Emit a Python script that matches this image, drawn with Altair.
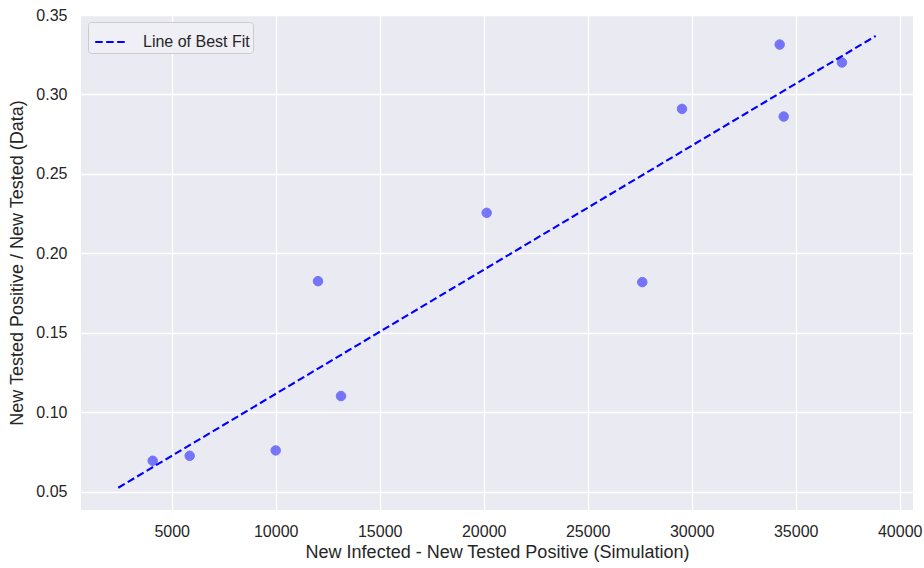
import altair as alt
import pandas as pd

# Scatter data
sim_x = [4087, 5865, 10000, 12034, 13140, 20144, 27625, 29534, 34231, 34423, 37226]
data_y = [0.0695, 0.0726, 0.0760, 0.1825, 0.1102, 0.2255, 0.1819, 0.2909, 0.3314, 0.2861, 0.3201]

# Line of best fit endpoints
fit_x = [2433, 38846]
fit_y = [0.0525, 0.3368]

x_ticks = [5000, 10000, 15000, 20000, 25000, 30000, 35000, 40000]
y_ticks = [0.05, 0.10, 0.15, 0.20, 0.25, 0.30, 0.35]

pts = pd.DataFrame({"x": sim_x, "y": data_y})
fit = pd.DataFrame({"x": fit_x, "y": fit_y, "label": ["Line of Best Fit"] * len(fit_x)})

FONT = "Liberation Sans"
TXT = "#262626"

xscale = alt.Scale(domain=[640, 40640], nice=False, zero=False)
yscale = alt.Scale(domain=[0.0385, 0.350], nice=False, zero=False)

xaxis = alt.Axis(
    title="New Infected - New Tested Positive (Simulation)",
    values=x_ticks, format="d", grid=True, gridColor="white", gridWidth=1.3,
    domain=False, ticks=False, labelPadding=13, labelFontSize=16, labelColor=TXT,
    titleFontSize=18, titleFontWeight="normal", titleColor=TXT, titlePadding=4,
    labelFont=FONT, titleFont=FONT,
)
yaxis = alt.Axis(
    title="New Tested Positive / New Tested (Data)",
    values=y_ticks, format=".2f", grid=True, gridColor="white", gridWidth=1.3,
    domain=False, ticks=False, labelPadding=14, labelFontSize=16, labelColor=TXT,
    titleFontSize=18, titleFontWeight="normal", titleColor=TXT, titlePadding=9,
    labelFont=FONT, titleFont=FONT,
)

points = alt.Chart(pts).mark_circle(
    size=90, color="blue", opacity=0.5, stroke="blue", strokeWidth=1
).encode(
    x=alt.X("x:Q", scale=xscale, axis=xaxis),
    y=alt.Y("y:Q", scale=yscale, axis=yaxis),
)

line = alt.Chart(fit).mark_line(strokeDash=[7.5, 3.5], strokeWidth=2.1).encode(
    x=alt.X("x:Q", scale=xscale),
    y=alt.Y("y:Q", scale=yscale),
    color=alt.Color(
        "label:N",
        scale=alt.Scale(domain=["Line of Best Fit"], range=["blue"]),
        legend=alt.Legend(
            title=None, orient="none", legendX=7, legendY=7,
            symbolType="stroke", symbolSize=1000, symbolStrokeWidth=2.1,
            symbolDash=[7.5, 3.5], symbolOffset=3,
            labelFontSize=16, labelFont=FONT, labelColor=TXT,
            fillColor="#EFEFF5", strokeColor="#CCCCCC", cornerRadius=3, padding=3,
            labelOffset=15, labelLimit=300,
        ),
    ),
)

chart = alt.layer(line, points).properties(
    width=832, height=495,
    autosize=alt.AutoSizeParams(type="none"),
    padding={"left": 81, "top": 15, "right": 11, "bottom": 58},
    background="white",
).configure_view(fill="#EAEAF2", stroke=None)

chart.save("out.html", embed_options={"renderer": "svg", "actions": False})
